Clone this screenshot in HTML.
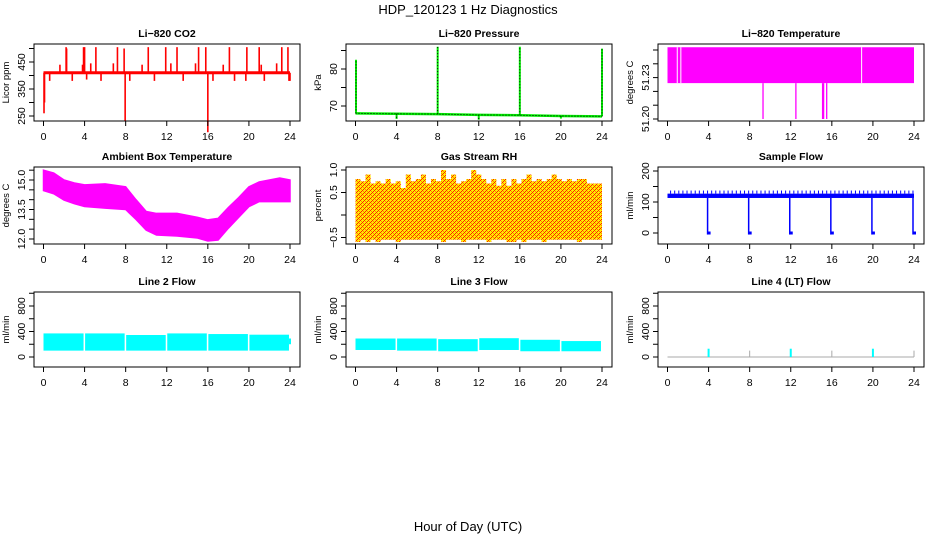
<!DOCTYPE html>
<html><head><meta charset="utf-8"><style>
html,body{margin:0;padding:0;background:#fff;}
svg{display:block;font-family:"Liberation Sans",Arial,sans-serif;}
</style></head><body>
<svg id="chart" width="936" height="540" viewBox="0 0 936 540" xmlns="http://www.w3.org/2000/svg">
<defs>
<pattern id="rhpat" width="4" height="4" patternUnits="userSpaceOnUse">
<rect width="4" height="4" fill="#ffee00"/>
<rect x="0" y="0" width="1" height="1" fill="#ff2000"/>
<rect x="2" y="2" width="1" height="1" fill="#ff2000"/>
<rect x="1" y="1" width="1" height="1" fill="#ff8000"/>
<rect x="3" y="1" width="1" height="1" fill="#ff2000"/>
<rect x="1" y="3" width="1" height="1" fill="#ff2000"/>
<rect x="3" y="3" width="1" height="1" fill="#ff8000"/>
</pattern>
</defs>
<text x="468" y="14" text-anchor="middle" font-size="13">HDP_120123  1 Hz Diagnostics</text>
<text x="468" y="531" text-anchor="middle" font-size="13">Hour of Day (UTC)</text>
</svg>
<script>
// ---- data ----
const hourTicks = [0,4,8,12,16,20,24];
// CO2
const co2Base = 410;
const co2SpikeHours = [0.05,0.1,2.2,2.25,3.9,4.0,5.1,7.2,7.85,7.95,10.2,11.9,13.0,15.1,15.8,16.0,18.1,19.8,21.0,23.2,23.8,1.6,3.8,4.6,6.8,9.6,12.4,14.8,17.5,21.2,22.7,0.6,2.8,4.2,5.6,8.4,10.8,13.6,16.5,18.6,19.7,21.5,23.9,24.0];
const co2SpikeVals  = [260,300,505,500,505,505,505,505,500,230,505,505,505,505,505,190,505,505,505,505,505,440,440,445,445,440,445,445,440,440,445,380,380,385,380,380,380,380,380,380,380,380,380,380];
// Pressure
const presHours = [0,4,8,12,16,20,24];
const presBase  = [68.0,67.9,67.8,67.6,67.5,67.3,67.2];
const presSpikeHours = [0.05,4.0,8.0,12.0,16.0,20.0,24.0];
const presSpikeVals  = [82.5,66.5,86.0,66.3,86.0,66.6,85.5];
// Li-820 temperature
const tempBandLow = 51.226, tempBandHigh = 51.252;
const tempGapHours = [0.95,1.3,18.9];
const tempDropHours = [9.3,12.5,15.1,15.2,15.5];
const tempDropVals  = [51.20,51.20,51.20,51.20,51.20];
// Ambient box temperature
const ambHours = [0,1,2,3,4,6,8,9,10,11,13,15,16,17,18,19,20,21,22,23,24];
const ambUpper = [15.5,15.35,15.0,14.85,14.75,14.8,14.65,14.0,13.4,13.3,13.3,13.1,12.97,13.05,13.6,14.1,14.65,14.9,15.0,15.1,15.0];
const ambLower = [14.46,14.3,13.98,13.8,13.65,13.57,13.5,13.0,12.45,12.2,12.15,12.05,11.9,11.95,12.55,13.1,13.65,13.9,13.9,13.9,13.9];
// Gas stream RH (upper values every half hour)
const rhUpper = [0.8,0.75,0.9,0.7,0.75,0.7,0.8,0.7,0.75,0.6,0.9,0.75,0.8,0.9,0.7,0.8,0.75,1.0,0.8,0.9,0.7,0.75,0.8,1.0,0.9,0.8,0.7,0.8,0.65,0.8,0.65,0.8,0.7,0.8,0.9,0.75,0.8,0.75,0.8,0.9,0.8,0.75,0.8,0.75,0.8,0.8,0.7,0.7,0.7];
const rhLower = [-0.6,-0.55,-0.6,-0.55,-0.6,-0.55,-0.55,-0.55,-0.6,-0.55,-0.55,-0.55,-0.55,-0.55,-0.55,-0.55,-0.55,-0.6,-0.55,-0.55,-0.55,-0.6,-0.55,-0.55,-0.55,-0.55,-0.6,-0.55,-0.55,-0.55,-0.6,-0.6,-0.55,-0.6,-0.55,-0.55,-0.55,-0.6,-0.55,-0.55,-0.55,-0.55,-0.55,-0.55,-0.6,-0.55,-0.55,-0.55,-0.55];
// Sample flow
const flowBaseLow = 113, flowBaseHigh = 127, flowSpikeTop = 137;
const flowDropHours = [4,8,12,16,20,24];
const flowDropVals  = [-5,-5,-5,-5,-5,-5];
// Line 2 / 3 flows: segments
const l2Start = [0,4.05,8.05,12.05,16.05,20.05];
const l2End   = [3.9,7.9,11.9,15.9,19.9,23.9];
const l2Low   = [100,100,100,100,100,100];
const l2High  = [370,370,345,370,360,350];
const l3Start = [0,4.05,8.05,12.05,16.05,20.05];
const l3End   = [3.9,7.9,11.9,15.9,19.9,23.9];
const l3Low   = [110,100,90,110,90,90];
const l3High  = [290,290,280,295,270,250];
// Line 4
const l4SpikeHours = [4,8,12,16,20,24];
const l4SpikeVals  = [130,100,130,100,130,100];

// ---- layout ----
const svg = document.getElementById('chart');
const NS = 'http://www.w3.org/2000/svg';
const colLeft = [34,346,658], colRight=[300,612,924];
const rowTop = [44,167,292], rowBot=[121,244,367];
function el(tag, attrs, parent){const e=document.createElementNS(NS,tag);for(const k in attrs)e.setAttribute(k,attrs[k]);(parent||svg).appendChild(e);return e;}

function panel(c,r,title,ylab,yv1,yp1,yv2,yp2,yTicks,yLabels,name){
  const L=colLeft[c],R=colRight[c],T=rowTop[r],B=rowBot[r];
  const g=el('g',{});
  
  
  const x0=L+9.5, x24=R-10;
  const xs=h=>x0+h*(x24-x0)/24;
  const ys=v=>yp1+(v-yv1)*(yp2-yp1)/(yv2-yv1);
  const plot=el('g',{},g);
  
  
  const box=el('rect',{x:L,y:T,width:R-L,height:B-T,fill:'none',stroke:'#000','stroke-width':1},g);
  
  
  const t=el('text',{x:(L+R)/2,y:T-7,'text-anchor':'middle','font-size':10.5,'font-weight':'bold'},g);
  t.textContent=title;
  
  
  const yl=el('text',{x:0,y:0,'text-anchor':'middle','font-size':9.5,transform:`translate(${L-25},${(T+B)/2}) rotate(-90)`},g);
  yl.textContent=ylab;
  
  
  hourTicks.forEach(h=>{
    el('line',{x1:xs(h),x2:xs(h),y1:B,y2:B+5,stroke:'#000'},g);
    const tx=el('text',{x:xs(h),y:B+19,'text-anchor':'middle','font-size':10.5},g);
    tx.textContent=h;
    
    
  });
  yTicks.forEach((v,i)=>{
    el('line',{x1:L-5,x2:L,y1:ys(v),y2:ys(v),stroke:'#000'},g);
    if(yLabels[i]){
      const tx=el('text',{x:0,y:0,'text-anchor':'middle','font-size':10.5,transform:`translate(${L-9},${ys(v)}) rotate(-90)`},g);
      tx.textContent=yLabels[i];
      
      
    }
  });
  return {plot,xs,ys};
}

// CO2
(()=>{const p=panel(0,0,'Li\u2212820 CO2','Licor ppm',450,62,250,116,[250,300,350,400,450,500],['250','','350','','450',''],'co2');
 co2SpikeHours.forEach((h,i)=>{el('line',{x1:p.xs(h),x2:p.xs(h),y1:p.ys(co2Base),y2:p.ys(co2SpikeVals[i]),stroke:'#f00','stroke-width':1.6},p.plot);});
 el('line',{x1:p.xs(0),x2:p.xs(24),y1:p.ys(co2Base),y2:p.ys(co2Base),stroke:'#f00','stroke-width':3},p.plot);
})();
// Pressure
(()=>{const p=panel(1,0,'Li\u2212820 Pressure','kPa',80,69,70,106,[70,75,80,85],['70','','80',''],'pressure');
 let d='';presHours.forEach((h,i)=>{d+=(i?'L':'M')+p.xs(h)+','+p.ys(presBase[i]);});
 el('path',{d,fill:'none',stroke:'#0e0','stroke-width':2.5},p.plot);
 el('path',{d,fill:'none',stroke:'#000','stroke-width':1,'stroke-dasharray':'1,2'},p.plot);
 presSpikeHours.forEach((h,i)=>{const b=presBase[Math.min(presBase.length-1,Math.round(h/4))];
  el('line',{x1:p.xs(h),x2:p.xs(h),y1:p.ys(b),y2:p.ys(presSpikeVals[i]),stroke:'#0e0','stroke-width':2},p.plot);
  el('line',{x1:p.xs(h),x2:p.xs(h),y1:p.ys(b),y2:p.ys(presSpikeVals[i]),stroke:'#000','stroke-width':1,'stroke-dasharray':'1,2'},p.plot);});
})();
// Li-820 temperature
(()=>{const p=panel(2,0,'Li\u2212820 Temperature','degrees C',51.20,119,51.25,50,[51.20,51.21,51.22,51.23,51.24,51.25],['51.20','','','51.23','',''],'li820-temp');
 el('rect',{x:p.xs(0),y:p.ys(tempBandHigh),width:p.xs(24)-p.xs(0),height:p.ys(tempBandLow)-p.ys(tempBandHigh),fill:'#f0f'},p.plot);
 tempGapHours.forEach(h=>el('line',{x1:p.xs(h),x2:p.xs(h),y1:p.ys(tempBandHigh),y2:p.ys(tempBandLow),stroke:'#fff','stroke-width':1},p.plot));
 tempDropHours.forEach((h,i)=>el('line',{x1:p.xs(h),x2:p.xs(h),y1:p.ys(tempBandLow),y2:p.ys(tempDropVals[i]),stroke:'#f0f','stroke-width':1.3},p.plot));
})();
// Ambient
(()=>{const p=panel(0,1,'Ambient Box Temperature','degrees C',12,239,15,180,[12,12.5,13,13.5,14,14.5,15,15.5],['12.0','','','13.5','','','15.0',''],'ambient-temp');
 let d='';ambHours.forEach((h,i)=>{d+=(i?'L':'M')+p.xs(h)+','+p.ys(ambUpper[i]);});
 for(let i=ambHours.length-1;i>=0;i--)d+='L'+p.xs(ambHours[i])+','+p.ys(ambLower[i]);
 el('path',{d:d+'Z',fill:'#f0f',stroke:'#f0f','stroke-width':1.5},p.plot);
})();
// RH
(()=>{const p=panel(1,1,'Gas Stream RH','percent',1.0,170,0.5,192.5,[-0.5,0,0.5,1.0],['\u22120.5','','0.5','1.0'],'gas-rh');
 let d='',n=rhUpper.length;
 rhUpper.forEach((v,i)=>{const a=p.xs(i*24/n),b=p.xs((i+1)*24/n);d+=(i?'L':'M')+a+','+p.ys(v)+'L'+b+','+p.ys(v);});
 for(let i=n-1;i>=0;i--){const a=p.xs(i*24/n),b=p.xs((i+1)*24/n);d+='L'+b+','+p.ys(rhLower[i])+'L'+a+','+p.ys(rhLower[i]);}
 el('path',{d:d+'Z',fill:'url(#rhpat)'},p.plot);
})();
// Sample flow
(()=>{const p=panel(2,1,'Sample Flow','ml/min',0,233,200,171,[0,50,100,150,200],['0','','100','','200'],'sample-flow');
 el('rect',{x:p.xs(0),y:p.ys(flowBaseHigh),width:p.xs(24)-p.xs(0),height:p.ys(flowBaseLow)-p.ys(flowBaseHigh),fill:'#00f'},p.plot);
 for(let h=0.3;h<24;h+=0.4)el('line',{x1:p.xs(h),x2:p.xs(h),y1:p.ys(flowBaseHigh),y2:p.ys(flowSpikeTop),stroke:'#00f','stroke-width':1},p.plot);
 flowDropHours.forEach((h,i)=>{el('line',{x1:p.xs(h)-1,x2:p.xs(h)-1,y1:p.ys(flowBaseLow),y2:p.ys(flowDropVals[i]),stroke:'#00f','stroke-width':1.5},p.plot);
  el('rect',{x:p.xs(h)-1,y:p.ys(0)-1.5,width:3,height:3,fill:'#00f'},p.plot);});
})();
// Line 2 & 3
function segPanel(c,title,name,S,E,Lo,Hi){const p=panel(c,2,title,'ml/min',0,357,800,306,[0,200,400,600,800,1000],['0','','400','','800',''],name);
 S.forEach((s,i)=>el('rect',{x:p.xs(s),y:p.ys(Hi[i]),width:p.xs(E[i])-p.xs(s),height:p.ys(Lo[i])-p.ys(Hi[i]),fill:'#0ff'},p.plot));
 el('line',{x1:p.xs(24),x2:p.xs(24),y1:p.ys(Lo[Lo.length-1]+100),y2:p.ys(Hi[Hi.length-1]-60),stroke:'#0ff','stroke-width':2},p.plot);}
segPanel(0,'Line 2 Flow','line2-flow',l2Start,l2End,l2Low,l2High);
segPanel(1,'Line 3 Flow','line3-flow',l3Start,l3End,l3Low,l3High);
// Line 4
(()=>{const p=panel(2,2,'Line 4 (LT) Flow','ml/min',0,357,800,306,[0,200,400,600,800,1000],['0','','400','','800',''],'line4-flow');
 el('line',{x1:p.xs(0),x2:p.xs(24),y1:p.ys(0),y2:p.ys(0),stroke:'#aaa','stroke-width':1},p.plot);
 l4SpikeHours.forEach((h,i)=>el('line',{x1:p.xs(h),x2:p.xs(h),y1:p.ys(0),y2:p.ys(l4SpikeVals[i]),stroke:(l4SpikeVals[i]>110?'#0ff':'#aaa'),'stroke-width':(l4SpikeVals[i]>110?2:1)},p.plot));
})();
</script>
</body></html>
